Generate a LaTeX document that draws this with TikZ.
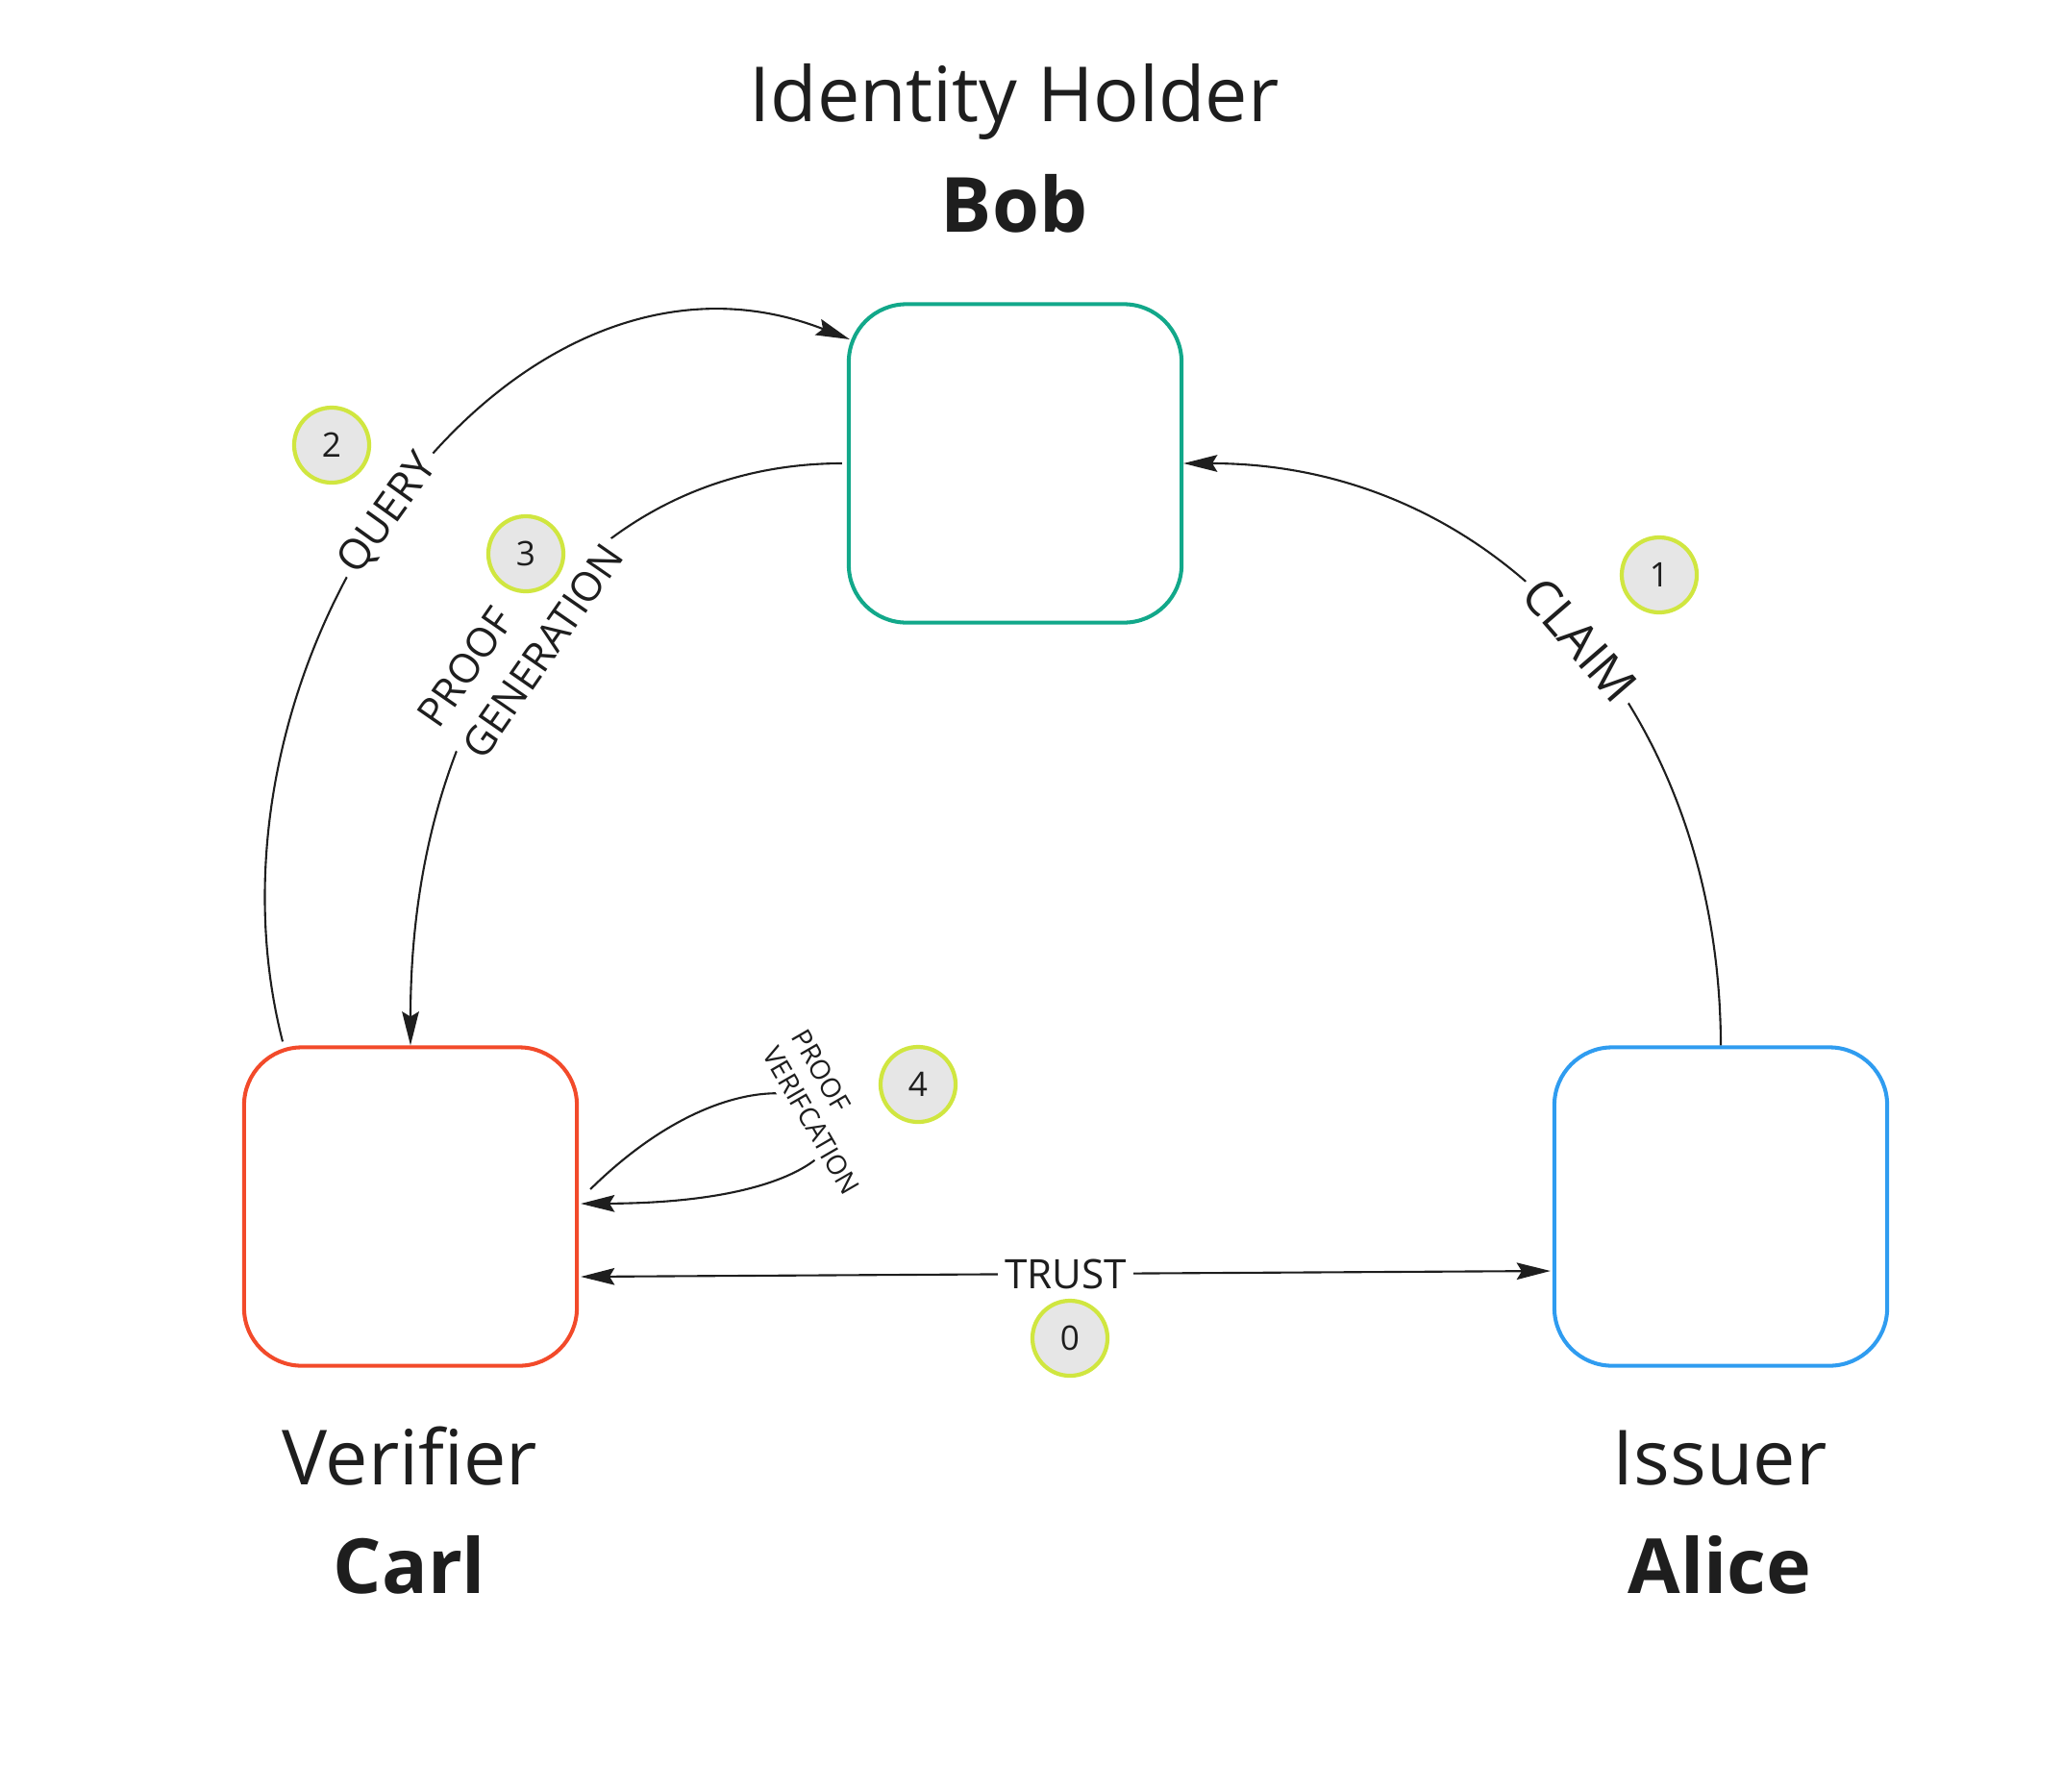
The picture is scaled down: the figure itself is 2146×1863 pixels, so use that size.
\documentclass[tikz,border=0pt]{standalone}
\usepackage{fontspec}
\setmainfont{Open Sans}
\usetikzlibrary{arrows.meta,calc}
\definecolor{ink}{HTML}{1E1E1E}
\definecolor{holder}{HTML}{12A88A}
\definecolor{verifier}{HTML}{F24A2A}
\definecolor{issuer}{HTML}{2F9CF0}
\definecolor{badgering}{HTML}{D0E640}
\definecolor{badgefill}{HTML}{E6E6E6}
\tikzset{
  party/.style={draw,rounded corners=0.6cm,minimum width=3.46cm,minimum height=3.31cm,line width=1.15pt},
  role/.style={anchor=base,font=\fontsize{22.5}{27}\selectfont,text=ink},
  who/.style={anchor=base,font=\fontsize{22.5}{27}\selectfont\bfseries,text=ink},
  flow/.style={line width=0.6pt,draw=ink,-{Stealth[length=10pt,width=5pt,inset=1.5pt]}},
  tag/.style={fill=white,text=ink,inner sep=2pt,align=left},
  badge/.style={circle,draw=badgering,fill=badgefill,line width=1.2pt,minimum size=0.78cm,inner sep=0pt,font=\fontsize{10}{12}\selectfont,text=ink}
}
\begin{document}
\begin{tikzpicture}[x=0.01cm,y=0.01cm]
  \useasboundingbox (0,0) rectangle (2146,-1863);
  % parties
  \node[party,draw=holder] (bob) at (1056,-482) {};
  \node[party,draw=verifier] (carl) at (427,-1255) {};
  \node[party,draw=issuer] (alice) at (1790,-1255) {};
  \node[role] (bobrole) at (1055,-126) {Identity Holder}; \node[who] (bobname) at (1055,-241) {Bob};
  \node[role] (carlrole) at (426,-1544) {Verifier}; \node[who] (carlname) at (426,-1657) {Carl};
  \node[role] (alicerole) at (1789,-1544) {Issuer}; \node[who] (alicename) at (1789,-1657) {Alice};
  % flows
  \draw[flow] (alice.north) .. controls (1789,-735) and (1555,-482) .. (bob.east)
    node[tag,sloped,pos=0.48,font=\fontsize{14.5}{17}\selectfont] (claim) {CLAIM};
  \draw[flow] ($(carl.north)+(-133,4)$) .. controls (192,-684) and (530,-215) .. ($(bob.west)+(3,129)$)
    node[tag,sloped,pos=0.48,font=\fontsize{12.5}{16}\selectfont] (query) {QUERY};
  \draw[flow] ($(bob.west)+(-5,0)$) .. controls (607,-482) and (427,-723) .. (carl.north)
    node[tag,sloped,pos=0.52,font=\fontsize{12}{16}\selectfont] (proofgen) {PROOF\\GENERATION};
  \draw[flow] ($(carl.east)+(12,18)$) .. controls (850,-1005) and (1035,-1250) .. ($(carl.east)+(2,3)$)
    node[tag,pos=0.5,rotate=-60,font=\fontsize{8}{10}\selectfont] (proofver) {PROOF\\VERIFCATION};
  \draw[flow,{Stealth[length=10pt,width=5pt,inset=1.5pt]}-{Stealth[length=10pt,width=5pt,inset=1.5pt]}]
    ($(carl.east)+(2,-73)$) -- ($(alice.west)+(-2,-67)$)
    node[tag,pos=0.5,font=\fontsize{12}{14}\selectfont] (trust) {TRUST};
  % step badges
  \node[badge] (step0) at (1113,-1392) {0};
  \node[badge] (step1) at (1726,-598) {1};
  \node[badge] (step2) at (345,-463) {2};
  \node[badge] (step3) at (547,-576) {3};
  \node[badge] (step4) at (955,-1128) {4};
\end{tikzpicture}
\end{document}
